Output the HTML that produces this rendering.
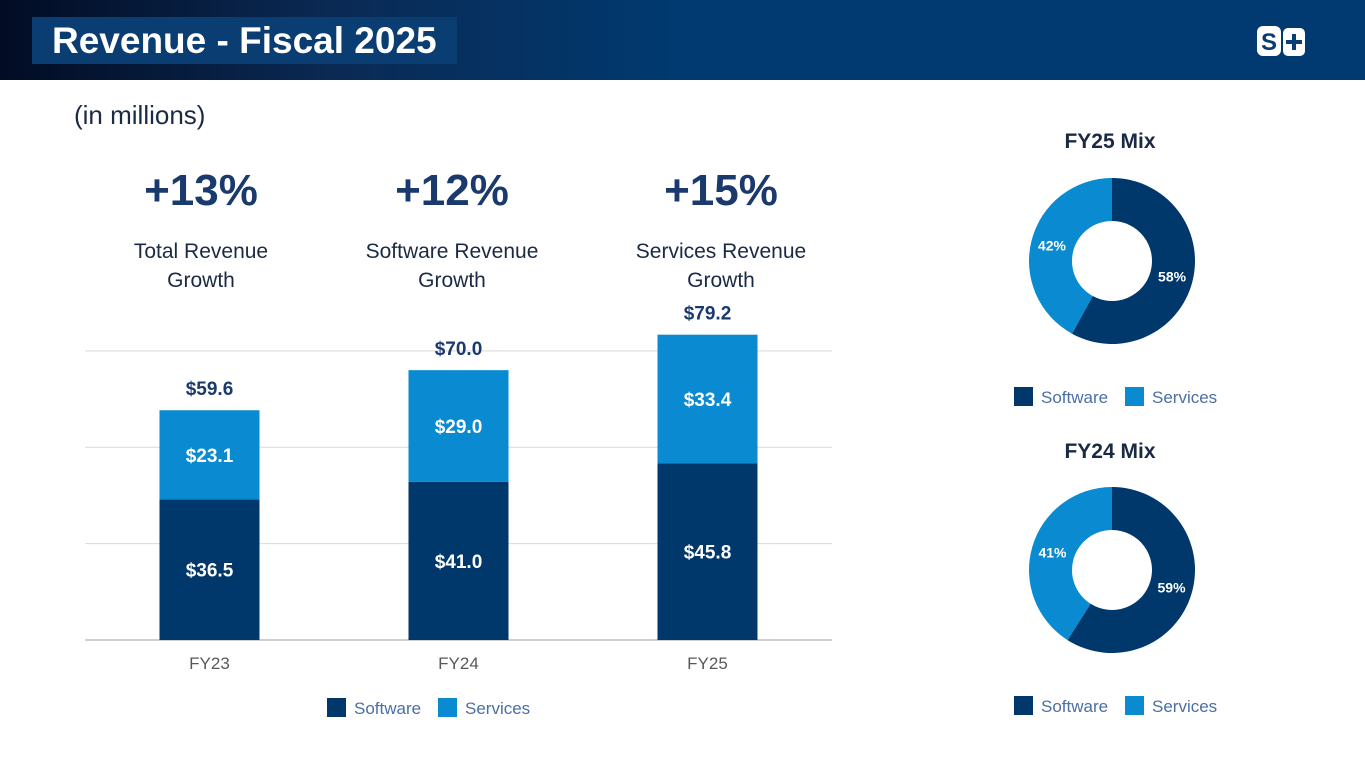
<!DOCTYPE html>
<html><head><meta charset="utf-8"><style>
body{margin:0;width:1365px;height:768px;overflow:hidden;background:#fff;font-family:"Liberation Sans",sans-serif;position:relative}
.hdr{position:absolute;left:0;top:0;width:1365px;height:80px;background:linear-gradient(90deg,#020c24 0%,#0a2a55 25%,#003a70 50%,#003a70 100%)}
.ttl{position:absolute;left:32px;top:17px;width:425px;height:47px;background:#0a3d72;color:#fff;font-weight:bold;font-size:37px;line-height:47px;padding-left:20px;box-sizing:border-box}
.t{position:absolute;text-align:center;color:#1b2a44}
</style></head><body>
<div class="hdr"></div>
<div class="ttl">Revenue - Fiscal 2025</div>
<svg style="position:absolute;left:1256px;top:25px" width="52" height="34">
<rect x="1" y="1" width="24" height="30" rx="6" fill="#fff"/><text x="13" y="25" text-anchor="middle" font-size="24" font-weight="bold" fill="#0a3d72" font-family="Liberation Sans">S</text>
<rect x="27" y="3" width="22" height="28" rx="5" fill="#fff"/><rect x="30" y="15" width="16" height="4" fill="#0a3d72"/><rect x="36" y="9" width="4" height="16" fill="#0a3d72"/>
</svg>
<div class="t" style="left:74px;top:100px;font-size:26px;text-align:left">(in millions)</div>
<div class="t" style="left:101px;top:166px;width:200px;font-size:44px;font-weight:bold;color:#1a3a6e">+13%</div>
<div class="t" style="left:352px;top:166px;width:200px;font-size:44px;font-weight:bold;color:#1a3a6e">+12%</div>
<div class="t" style="left:621px;top:166px;width:200px;font-size:44px;font-weight:bold;color:#1a3a6e">+15%</div>
<div class="t" style="left:91px;top:237px;width:220px;font-size:21px;line-height:29px">Total Revenue<br>Growth</div>
<div class="t" style="left:332px;top:237px;width:240px;font-size:21px;line-height:29px">Software Revenue<br>Growth</div>
<div class="t" style="left:601px;top:237px;width:240px;font-size:21px;line-height:29px">Services Revenue<br>Growth</div>
<svg id="bar" style="position:absolute;left:0;top:0" width="860" height="768"></svg>
<div class="t" style="left:1010px;top:130px;width:200px;font-size:21px;font-weight:bold">FY25 Mix</div>
<div class="t" style="left:1010px;top:440px;width:200px;font-size:21px;font-weight:bold">FY24 Mix</div>
<svg id="pie" style="position:absolute;left:0;top:0" width="1365" height="768"></svg>
<script>
const categories=["FY23","FY24","FY25"];
const software=[36.5,41.0,45.8];
const services=[23.1,29.0,33.4];
const totals=[59.6,70.0,79.2];
const yTicks=[0,25,50,75];
const mixTitles=["FY25","FY24"];
const mixSoftware=[58,59];
const mixServices=[42,41];
const DARK="#00386b",LIGHT="#0a8ad0",NS="http://www.w3.org/2000/svg";
function mk(p,t,a,txt){const e=document.createElementNS(NS,t);for(const k in a)e.setAttribute(k,a[k]);if(txt!=null)e.textContent=txt;p.appendChild(e);return e;}
const bar=document.getElementById('bar');
const x0=85,x1=832,base=640,ppu=3.855,bw=100;
const y=v=>base-v*ppu;
const xc=i=>x0+(x1-x0)/categories.length*(i+0.5);
yTicks.forEach(t=>{if(t>0){const g=mk(bar,'line',{x1:x0,x2:x1,y1:y(t),y2:y(t),stroke:'#d9d9d9','stroke-width':1});

}});
const ax=mk(bar,'line',{x1:x0,x2:x1,y1:base,y2:base,stroke:'#bfbfbf','stroke-width':1.5});


categories.forEach((c,i)=>{
 const cx=xc(i);
 const r1=mk(bar,'rect',{x:cx-bw/2,y:y(software[i]),width:bw,height:software[i]*ppu,fill:DARK});
 
 
 const r2=mk(bar,'rect',{x:cx-bw/2,y:y(software[i]+services[i]),width:bw,height:services[i]*ppu,fill:LIGHT});
 
 
 const f='font-family:Liberation Sans;font-weight:bold;font-size:19px';
 const l1=mk(bar,'text',{x:cx,y:y(software[i]/2)+7,'text-anchor':'middle',fill:'#fff',style:f},'$'+software[i].toFixed(1));
 
 
 const l2=mk(bar,'text',{x:cx,y:y(software[i]+services[i]/2)+7,'text-anchor':'middle',fill:'#fff',style:f},'$'+services[i].toFixed(1));
 
 
 const l3=mk(bar,'text',{x:cx,y:y(totals[i])-15,'text-anchor':'middle',fill:'#1a3a6e',style:f},'$'+totals[i].toFixed(1));
 
 
 const tl=mk(bar,'text',{x:cx,y:669,'text-anchor':'middle',fill:'#595959',style:'font-family:Liberation Sans;font-size:17px'},c);
 
 
});
function legend(svg,lx,ly){
 [["Software",DARK,0],["Services",LIGHT,111]].forEach(([n,col,dx])=>{
  const r=mk(svg,'rect',{x:lx+dx,y:ly-15,width:19,height:19,fill:col});
  
  
  const t=mk(svg,'text',{x:lx+dx+27,y:ly+1,fill:'#4a6fa5',style:'font-family:Liberation Sans;font-size:17px'},n);
  
  
 });
}
legend(bar,327,713);
const pie=document.getElementById('pie');
const centers=[261,570];
mixTitles.forEach((m,k)=>{
 const cx=1112,cy=centers[k],R=83,r=40;
 const vals=[mixSoftware[k],mixServices[k]],cols=[DARK,LIGHT];
 let a=0;
 vals.forEach((v,j)=>{
  const a2=a+v/100*2*Math.PI;
  const p=(ang,rad)=>[cx+rad*Math.sin(ang),cy-rad*Math.cos(ang)];
  const [ax1,ay1]=p(a,R),[ax2,ay2]=p(a2,R),[bx2,by2]=p(a2,r),[bx1,by1]=p(a,r);
  const lg=(a2-a)>Math.PI?1:0;
  const path=mk(pie,'path',{d:`M${ax1},${ay1}A${R},${R} 0 ${lg} 1 ${ax2},${ay2}L${bx2},${by2}A${r},${r} 0 ${lg} 0 ${bx1},${by1}Z`,fill:cols[j]});
  
  
  const mid=(a+a2)/2,[tx,ty]=p(mid,62);
  const t=mk(pie,'text',{x:tx,y:ty+5,'text-anchor':'middle',fill:'#fff',style:'font-family:Liberation Sans;font-weight:bold;font-size:14px'},v+'%');
  
  
  a=a2;
 });
 legend(pie,1014,cy+141);
});
</script>
</body></html>
